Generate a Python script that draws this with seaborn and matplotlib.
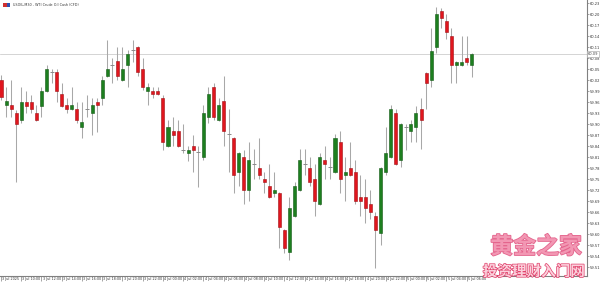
import numpy as np
import pandas as pd
import matplotlib
matplotlib.use("Agg")
import matplotlib.pyplot as plt
import matplotlib.patheffects as pe
import matplotlib.transforms as mtransforms
from matplotlib.patches import Rectangle
import seaborn as sns

# ---------------- data ----------------
title_text = "USOIL,M30 - WTI Crude Oil Cash (CFD)"

open_ = [60.021, 59.953, 59.953, 59.931, 59.912, 59.961, 59.961, 59.931, 59.950, 59.991,
         60.043, 60.043, 59.983, 59.953, 59.942, 59.942, 59.893, 59.942, 59.931, 59.961,
         59.972, 60.032, 60.062, 60.073, 60.021, 60.062, 60.103, 60.111, 60.051, 59.991,
         59.991, 59.991, 59.972, 59.841, 59.882, 59.882, 59.830, 59.822, 59.841, 59.824,
         59.811, 59.920, 60.002, 59.912, 59.964, 59.874, 59.863, 59.770, 59.811, 59.721,
         59.792, 59.781, 59.751, 59.732, 59.713, 59.713, 59.612, 59.552, 59.650, 59.721,
         59.792, 59.781, 59.751, 59.683, 59.803, 59.784, 59.770, 59.852, 59.762, 59.781,
         59.770, 59.702, 59.702, 59.683, 59.650, 59.604, 59.770, 59.811, 59.931, 59.803,
         59.893, 59.882, 59.893, 59.942, 60.040, 60.021, 60.111, 60.209, 60.182, 60.141,
         60.062, 60.062, 60.081, 60.062]
high_ = [60.034, 60.002, 60.021, 59.939, 60.002, 59.991, 59.980, 59.953, 60.002, 60.062,
         60.051, 60.051, 60.013, 59.972, 60.002, 59.961, 59.961, 59.980, 59.972, 59.972,
         60.032, 60.130, 60.081, 60.111, 60.111, 60.103, 60.130, 60.114, 60.081, 60.013,
         60.002, 60.002, 59.980, 59.912, 59.920, 59.912, 59.901, 59.841, 59.871, 59.841,
         59.953, 60.002, 60.013, 59.972, 60.032, 59.942, 59.866, 59.825, 59.830, 59.852,
         59.833, 59.863, 59.770, 59.792, 59.770, 59.716, 59.615, 59.702, 59.743, 59.833,
         59.833, 59.811, 59.792, 59.822, 59.841, 59.811, 59.874, 59.882, 59.811, 59.852,
         59.803, 59.762, 59.751, 59.721, 59.661, 59.784, 59.893, 59.953, 59.942, 59.904,
         59.901, 59.912, 59.950, 59.972, 60.043, 60.163, 60.220, 60.217, 60.201, 60.163,
         60.073, 60.141, 60.141, 60.094]
low_ = [59.966, 59.920, 59.920, 59.743, 59.904, 59.931, 59.931, 59.909, 59.920, 59.988,
        60.013, 59.961, 59.947, 59.931, 59.939, 59.904, 59.863, 59.920, 59.871, 59.879,
        59.953, 60.029, 60.013, 60.021, 60.018, 60.002, 60.070, 60.032, 59.994, 59.953,
        59.972, 59.980, 59.830, 59.838, 59.841, 59.838, 59.822, 59.800, 59.770, 59.729,
        59.803, 59.904, 59.912, 59.909, 59.841, 59.770, 59.713, 59.732, 59.683, 59.691,
        59.751, 59.751, 59.713, 59.699, 59.702, 59.563, 59.549, 59.530, 59.647, 59.718,
        59.762, 59.732, 59.650, 59.680, 59.751, 59.751, 59.767, 59.713, 59.691, 59.759,
        59.683, 59.650, 59.631, 59.642, 59.508, 59.571, 59.762, 59.808, 59.789, 59.784,
        59.830, 59.852, 59.852, 59.833, 59.942, 60.002, 60.094, 60.163, 60.133, 60.013,
        60.013, 60.059, 60.062, 60.029]
close_ = [59.974, 59.964, 59.942, 59.901, 59.961, 59.950, 59.942, 59.912, 59.991, 60.051,
          60.045, 59.991, 59.950, 59.942, 59.953, 59.912, 59.906, 59.940, 59.953, 59.953,
          60.021, 60.051, 60.060, 60.032, 60.051, 60.092, 60.100, 60.043, 60.002, 60.002,
          59.983, 59.983, 59.852, 59.893, 59.871, 59.841, 59.828, 59.830, 59.830, 59.822,
          59.931, 59.983, 59.920, 59.953, 59.882, 59.872, 59.762, 59.822, 59.721, 59.803,
          59.790, 59.762, 59.743, 59.702, 59.721, 59.620, 59.563, 59.672, 59.732, 59.803,
          59.790, 59.743, 59.691, 59.811, 59.792, 59.782, 59.863, 59.751, 59.770, 59.762,
          59.691, 59.691, 59.672, 59.661, 59.612, 59.781, 59.822, 59.942, 59.792, 59.901,
          59.891, 59.901, 59.931, 59.912, 60.013, 60.100, 60.201, 60.190, 60.152, 60.062,
          60.070, 60.070, 60.070, 60.092]

x_tick_labels = ["3 Jul 2025", "3 Jul 10:00", "3 Jul 12:00", "3 Jul 14:00", "3 Jul 16:00",
                 "3 Jul 18:00", "3 Jul 20:00", "3 Jul 22:00", "4 Jul 00:00", "4 Jul 02:00",
                 "4 Jul 04:00", "4 Jul 06:00", "4 Jul 08:00", "4 Jul 10:00", "4 Jul 12:00",
                 "4 Jul 14:00", "4 Jul 16:00", "4 Jul 18:00", "4 Jul 20:00", "4 Jul 22:00",
                 "5 Jul 00:00", "5 Jul 02:00", "5 Jul 04:00", "5 Jul 06:00"]
y_tick_labels = ["60.23", "60.20", "60.17", "60.14", "60.11", "60.08", "60.05", "60.02",
                 "59.99", "59.96", "59.93", "59.90", "59.87", "59.84", "59.81", "59.78",
                 "59.75", "59.72", "59.69", "59.66", "59.63", "59.60", "59.57", "59.54",
                 "59.51"]
last_price_label = "60.09"
watermark_1 = "黄金之家"
watermark_2 = "投资理财入门网"

df = pd.DataFrame({"open": open_, "high": high_, "low": low_, "close": close_})
df["idx"] = np.arange(len(df))

# ---------------- style ----------------
sns.set_theme(style="white")
plt.rcParams["font.family"] = ["DejaVu Sans", "Noto Sans CJK SC"]

fig = plt.figure(figsize=(6.0, 2.83), dpi=100)
W, H = 600, 283
ax = fig.add_axes([0, 7 / H, 587 / W, 276 / H])
ax.set_facecolor("white")

GREEN = "#1d7f1f"
GREEN_E = "#145a16"
RED = "#e0161e"
RED_E = "#a01015"
WICK = "#a8a8a8"

# wicks
ax.vlines(df["idx"], df["low"], df["high"], color=WICK, lw=0.75, zorder=1)

# bodies
body_w = 0.6
diff = df["close"] - df["open"]
is_doji = diff.abs() < 0.004
up = (diff > 0) & ~is_doji
dn = (diff < 0) & ~is_doji
ax.bar(df.loc[up, "idx"], diff[up], bottom=df.loc[up, "open"], width=body_w,
       color=GREEN, edgecolor=GREEN_E, linewidth=0.4, zorder=2)
ax.bar(df.loc[dn, "idx"], -diff[dn], bottom=df.loc[dn, "close"], width=body_w,
       color=RED, edgecolor=RED_E, linewidth=0.4, zorder=2)
ax.hlines(df.loc[is_doji, "open"], df.loc[is_doji, "idx"] - 0.4, df.loc[is_doji, "idx"] + 0.4,
          color="#8a8a8a", lw=0.7, zorder=2)

# last price line
last_close = df["close"].iloc[-1]
ax.axhline(last_close, color="#d4d4d4", lw=0.7, zorder=0)

ax.set_xlim(-0.2, 115.8)
ax.set_ylim(59.486, 60.239)

# spines
for s in ["top", "left"]:
    ax.spines[s].set_visible(False)
for s in ["right", "bottom"]:
    ax.spines[s].set_visible(True)
    ax.spines[s].set_color("#808080")
    ax.spines[s].set_linewidth(0.8)

# y ticks on the right
yt = [float(v) for v in y_tick_labels]
ax.yaxis.tick_right()
ax.set_yticks(yt)
ax.set_yticklabels(y_tick_labels)
ax.tick_params(axis="y", which="major", right=True, left=False, length=1.6, width=0.5,
               color="#808080", pad=0.6, labelsize=2.6, labelcolor="#333333")

# x ticks
xt = list(range(0, 4 * len(x_tick_labels), 4))
ax.set_xticks(xt)
ax.set_xticklabels(x_tick_labels)
ax.tick_params(axis="x", which="major", bottom=True, length=3.6, width=0.5,
               color="#808080", pad=-3.0, labelsize=2.4, labelcolor="#333333")
offset = mtransforms.ScaledTranslation(1.2 / 100, 0, fig.dpi_scale_trans)
for lab in ax.get_xticklabels():
    lab.set_horizontalalignment("left")
    lab.set_transform(lab.get_transform() + offset)
ax.grid(False)

# last price box on axis
ax.text(1.0 + 1 / W, last_close, last_price_label, transform=ax.get_yaxis_transform(),
        ha="left", va="center", fontsize=2.6, color="#444444",
        bbox=dict(boxstyle="square,pad=0.25", fc="white", ec="#b0b0b0", lw=0.5), zorder=5)

# title with small icon
fig.patches.append(Rectangle((3 / W, 1 - 7 / H), 3.5 / W, 4 / H, transform=fig.transFigure,
                             fc="#d03030", ec="none"))
fig.patches.append(Rectangle((6.5 / W, 1 - 7 / H), 3.5 / W, 4 / H, transform=fig.transFigure,
                             fc="#3050b0", ec="none"))
fig.text(13 / W, 1 - 5 / H, title_text, ha="left", va="center", fontsize=2.4, color="#333333")

# watermark
fig.text(536 / W, 1 - 247 / H, watermark_1, ha="center", va="center", fontsize=16.5,
         family=["Noto Sans CJK SC", "DejaVu Sans"], weight="bold", color="#f297b3",
         path_effects=[pe.withStroke(linewidth=1.2, foreground="#e4658d")], zorder=10)
fig.text(534 / W, 1 - 271 / H, watermark_2, ha="center", va="center", fontsize=10.5,
         family=["Noto Sans CJK SC", "DejaVu Sans"], weight="bold", color="#fbd0dc",
         path_effects=[pe.withStroke(linewidth=1.0, foreground="#e0406a")], zorder=10)

fig.savefig("out.png", dpi=100, facecolor="white")
